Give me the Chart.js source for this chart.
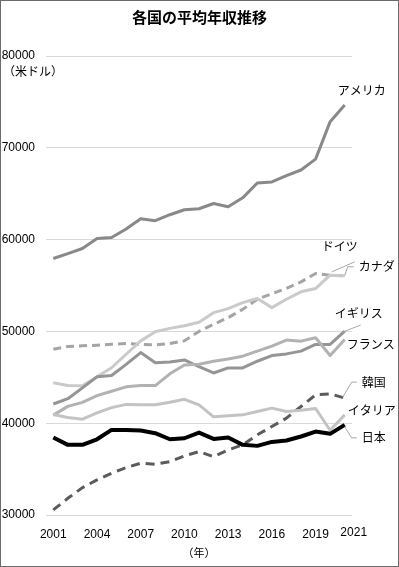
<!DOCTYPE html>
<html lang="ja">
<head>
<meta charset="utf-8">
<script src="https://cdn.jsdelivr.net/npm/chart.js@4"></script>
<style>
  html, body { margin: 0; padding: 0; background: #fff; }
  canvas { display: block; }
</style>
</head>
<body>
<canvas id="chart" width="399" height="567"></canvas>
<script>
// 各国の平均年収推移 (米ドル)
const years = ['2001','2002','2003','2004','2005','2006','2007','2008','2009','2010','2011',
               '2012','2013','2014','2015','2016','2017','2018','2019','2020','2021'];
const yTicks = [30000, 40000, 50000, 60000, 70000, 80000];

const usa     = [57940, 58480, 59030, 60110, 60220, 61160, 62270, 62060, 62710, 63250, 63360, 63930, 63570, 64550, 66170, 66280, 66970, 67580, 68770, 72850, 74660];
const germany = [48060, 48350, 48430, 48500, 48600, 48680, 48600, 48530, 48680, 48970, 50000, 50770, 51500, 52400, 53500, 54100, 54700, 55400, 56300, 56100, 56050];
const canada  = [44400, 44100, 44070, 45050, 46040, 47510, 48970, 49960, 50330, 50620, 51000, 52040, 52480, 53140, 53580, 52590, 53500, 54310, 54670, 56130, 56060];
const uk      = [42090, 42670, 43850, 45050, 45200, 46410, 47690, 46590, 46670, 46890, 46150, 45470, 46020, 46020, 46750, 47370, 47550, 47850, 48580, 48580, 50040];
const france  = [40880, 41830, 42270, 43000, 43480, 43960, 44100, 44100, 45380, 46340, 46420, 46750, 47000, 47300, 47850, 48400, 49050, 48940, 49310, 47370, 49120];
const korea   = [30550, 31820, 32980, 33820, 34550, 35160, 35640, 35530, 35820, 36440, 36910, 36360, 37090, 37640, 38730, 39640, 40550, 41820, 43090, 43200, 42730];
const italy   = [40950, 40620, 40440, 41120, 41700, 42050, 42000, 42000, 42280, 42600, 42000, 40690, 40800, 40910, 41270, 41640, 41280, 41420, 41600, 39230, 40910];
const japan   = [38440, 37640, 37640, 38250, 39270, 39270, 39200, 38910, 38250, 38360, 38980, 38290, 38440, 37640, 37530, 37960, 38110, 38550, 39090, 38840, 39820];

const FONT = "'Liberation Sans', 'Noto Sans CJK JP', sans-serif";
const JP_FONT = "'Noto Sans CJK JP', sans-serif";

// ラベル: 最終点からの相対位置 (テキスト / 引き出し線)
const endLabels = [
  { ds: 0, text: 'アメリカ', dx: -7, dy: -15 },
  { ds: 1, text: 'ドイツ',   dx: -23, dy: -29, leader: [[-13, -4], [10, -14]] },
  { ds: 2, text: 'カナダ',   dx: 14, dy: -9,  leader: [[0, 0], [3, -9], [9, -9]] },
  { ds: 3, text: 'イギリス', dx: -10, dy: -18, leader: [[-2, 1], [16, -6]] },
  { ds: 4, text: 'フランス', dx: 2, dy: 5 },
  { ds: 5, text: '韓国',     dx: 17, dy: -16, leader: [[-2, -1], [7, -16], [12, -16]] },
  { ds: 6, text: 'イタリア', dx: 3, dy: -4 },
  { ds: 7, text: '日本',     dx: 17, dy: 13,  leader: [[0, 2], [7, 13], [12, 13]] }
];

function line(label, data, color, width, dash, order) {
  return {
    label: label,
    data: data,
    borderColor: color,
    backgroundColor: color,
    borderWidth: width,
    borderDash: dash || [],
    borderJoinStyle: 'round',
    pointRadius: 0,
    tension: 0,
    fill: false,
    order: order
  };
}

const extras = {
  id: 'extras',
  afterDraw(chart) {
    const ctx = chart.ctx;
    const x = chart.scales.x;
    const area = chart.chartArea;
    ctx.save();

    // 外枠
    ctx.strokeStyle = '#6b6b6b';
    ctx.lineWidth = 1;
    ctx.strokeRect(0.5, 0.5, chart.width - 1, chart.height - 1);

    // タイトル
    ctx.fillStyle = '#000';
    ctx.textAlign = 'center';
    ctx.textBaseline = 'middle';
    ctx.font = 'bold 15px ' + JP_FONT;
    ctx.fillText('各国の平均年収推移', chart.width / 2, 17);

    // 単位
    ctx.font = '12px ' + JP_FONT;
    ctx.textAlign = 'left';
    ctx.fillText('（米ドル）', 3, area.top + 15);
    ctx.font = '11px ' + JP_FONT;
    ctx.textAlign = 'center';
    ctx.fillText('（年）', (area.left + area.right) / 2, area.bottom + 38);

    // 最後の年ラベル (少し右寄せ)
    ctx.font = '12px ' + FONT;
    ctx.fillText(years[years.length - 1], x.getPixelForValue(years.length - 1) + 9, area.bottom + 18);

    // 系列ラベル
    endLabels.forEach(l => {
      const pt = chart.getDatasetMeta(l.ds).data[years.length - 1];
      if (l.leader) {
        ctx.strokeStyle = '#a6a6a6';
        ctx.lineWidth = 1;
        ctx.beginPath();
        l.leader.forEach(([lx, ly], i) => {
          if (i === 0) ctx.moveTo(pt.x + lx, pt.y + ly);
          else ctx.lineTo(pt.x + lx, pt.y + ly);
        });
        ctx.stroke();
      }
      ctx.fillStyle = '#000';
      ctx.font = '12px ' + JP_FONT;
      ctx.textAlign = 'left';
      ctx.textBaseline = 'middle';
      ctx.fillText(l.text, pt.x + l.dx, pt.y + l.dy);
    });
    ctx.restore();
  }
};

new Chart(document.getElementById('chart'), {
  type: 'line',
  data: {
    labels: years,
    datasets: [
      line('アメリカ', usa,     '#898989', 3, null, 6),
      line('ドイツ',   germany, '#a5a5a5', 3, [8, 5], 5),
      line('カナダ',   canada,  '#cacaca', 3, null, 4),
      line('イギリス', uk,      '#959595', 3, null, 3),
      line('フランス', france,  '#b2b2b2', 3, null, 2),
      line('韓国',     korea,   '#5b5b5b', 3, [9, 6], 7),
      line('イタリア', italy,   '#c3c3c3', 3, null, 1),
      line('日本',     japan,   '#000000', 4, null, 0)
    ]
  },
  options: {
    responsive: false,
    animation: false,
    events: [],
    layout: { padding: { left: 0, right: 47, top: 56, bottom: 0 } },
    plugins: {
      legend: { display: false },
      title: { display: false },
      tooltip: { enabled: false }
    },
    scales: {
      x: {
        type: 'category',
        offset: true,
        grid: { display: false },
        border: { display: false },
        ticks: {
          autoSkip: false,
          maxRotation: 0,
          padding: 4,
          color: '#000',
          font: { size: 12, family: FONT },
          callback: (v, i) => (i % 3 === 0 && i < years.length - 1) ? years[i] : ''
        },
        afterFit: s => { s.height = 52; }
      },
      y: {
        min: yTicks[0],
        max: yTicks[yTicks.length - 1],
        afterBuildTicks: s => { s.ticks = yTicks.map(v => ({ value: v })); },
        grid: { color: '#d9d9d9', lineWidth: 1, drawTicks: false },
        border: { display: false },
        ticks: {
          padding: 11,
          color: '#000',
          font: { size: 12, family: FONT },
          callback: v => String(v)
        },
        afterFit: s => { s.width = 46; }
      }
    }
  },
  plugins: [extras]
});
</script>
</body>
</html>
